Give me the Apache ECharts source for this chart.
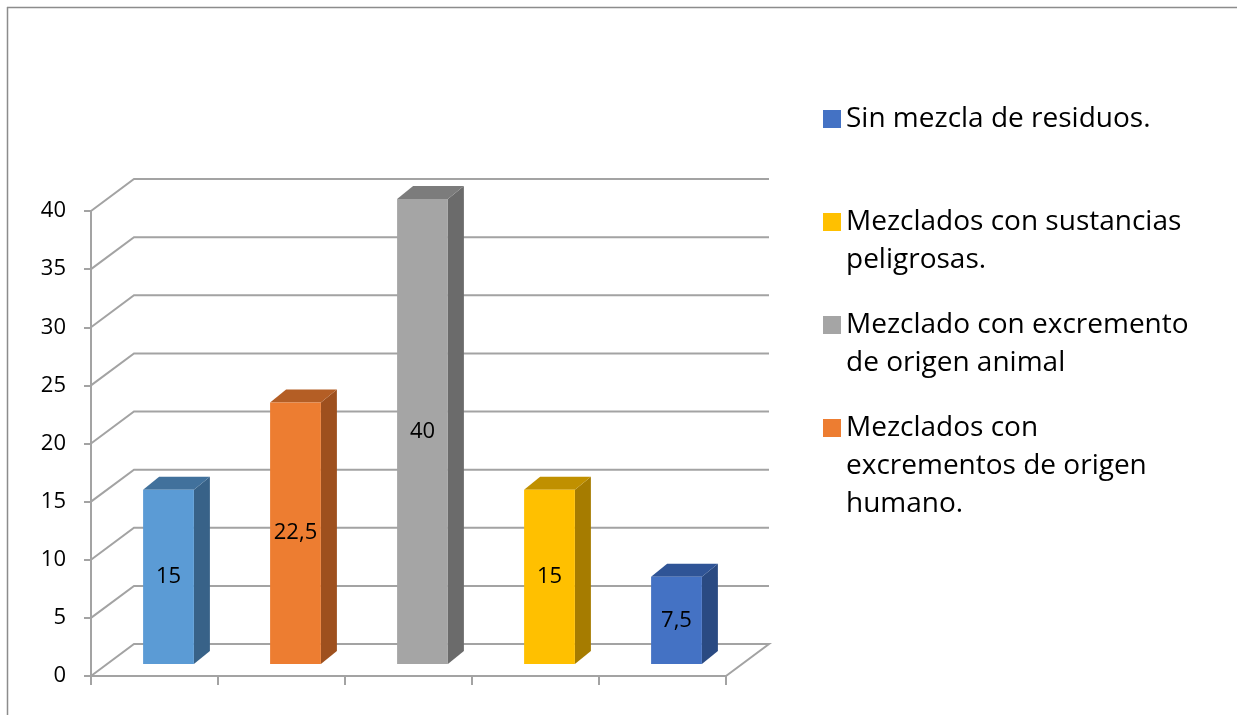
<!DOCTYPE html>
<html>
<head>
<meta charset="utf-8">
<script src="https://cdn.jsdelivr.net/npm/echarts@6/dist/echarts.min.js"></script>
<style>
  html, body { margin: 0; padding: 0; background: #ffffff; }
  #chart { width: 1237px; height: 715px; }
</style>
</head>
<body>
<div id="chart"></div>
<script>
// Categories along the horizontal axis (axis labels are not shown)
const categories = ['1', '2', '3', '4', '5'];

// Percentage for each bar, left to right
const values = [15, 22.5, 40, 15, 7.5];

// Series name for each bar (the first bar has no legend entry)
const seriesNames = [
  'Otros',
  'Mezclados con\nexcrementos de origen\nhumano.',
  'Mezclado con excremento\nde origen animal',
  'Mezclados con sustancias\npeligrosas.',
  'Sin mezcla de residuos.'
];

// Legend order (indices into seriesNames)
const legendOrder = [4, 3, 2, 1];

// Value-axis ticks
const yTicks = [0, 5, 10, 15, 20, 25, 30, 35, 40];

// Face colours of each 3D bar: front, top, side
const frontColors = ['#5b9bd5', '#ed7d31', '#a5a5a5', '#ffc000', '#4472c4'];
const topColors   = ['#41719c', '#b45e25', '#7c7c7c', '#c09000', '#2f5496'];
const sideColors  = ['#386288', '#9e501e', '#6b6b6b', '#a67c00', '#2a4a82'];

const FONT = 'Open Sans';
const GRID_COLOR = '#a3a3a3';

// Oblique projection offsets (pixels) for the pseudo-3D look
const WALL_DEPTH = [43, -32];   // depth of floor / side wall
const FRONT_OFF = [14, -12];    // bar front plane relative to axis plane
const BAR_DEPTH = [16, -13];    // thickness of each bar
const BAR_FRAC = 0.4;           // bar width as a share of the category band

function fmt(v) { return String(v).replace('.', ','); }

// Back wall, side wall and floor lines at each value tick
function wallRenderer(params, api) {
  const v = api.value(1);
  const cs = params.coordSys;
  const y = api.coord([0, v])[1];
  const x0 = cs.x, x1 = cs.x + cs.width;
  const dx = WALL_DEPTH[0], dy = WALL_DEPTH[1];
  const pts = [[x0, y], [x0 + dx, y + dy], [x1 + dx, y + dy]];
  if (v === 0) pts.push([x1, y]);
  return {
    type: 'polyline',
    shape: { points: pts },
    style: { stroke: GRID_COLOR, lineWidth: 2, fill: null }
  };
}

function barRenderer(k) {
  return function (params, api) {
    const i = api.value(0), v = api.value(1);
    const base = api.coord([i, 0]);
    const top = api.coord([i, v]);
    const band = api.size([1, 0])[0];
    const w = band * BAR_FRAC;
    const xl = base[0] - w / 2 + FRONT_OFF[0];
    const xr = xl + w;
    const yb = base[1] + FRONT_OFF[1];
    const yt = top[1] + FRONT_OFF[1];
    const dx = BAR_DEPTH[0], dy = BAR_DEPTH[1];
    return {
      type: 'group',
      children: [
        { type: 'polygon', shape: { points: [[xr, yt], [xr + dx, yt + dy], [xr + dx, yb + dy], [xr, yb]] },
          style: { fill: sideColors[k] } },
        { type: 'polygon', shape: { points: [[xl, yt], [xl + dx, yt + dy], [xr + dx, yt + dy], [xr, yt]] },
          style: { fill: topColors[k] } },
        { type: 'rect', shape: { x: xl, y: yt, width: w, height: yb - yt },
          style: { fill: frontColors[k] } },
        { type: 'text', x: (xl + xr) / 2, y: (yt + yb) / 2,
          style: { text: fmt(v), fill: '#000000', fontSize: 22, fontFamily: FONT, align: 'center', verticalAlign: 'middle' } }
      ]
    };
  };
}

const series = [{
  type: 'custom',
  name: 'grid',
  z: 1,
  silent: true,
  renderItem: wallRenderer,
  data: yTicks.map(v => [0, v])
}];

values.forEach((v, k) => {
  series.push({
    type: 'custom',
    name: seriesNames[k],
    z: 3,
    itemStyle: { color: frontColors[k] },
    renderItem: barRenderer(k),
    data: [[k, v]]
  });
});

// Legend blocks: one per entry; leading blank lines keep the swatch level with the first text line
const LINE_H = 38;
const legendTops = [100, 165, 268, 333];
const legends = legendOrder.map((k, j) => {
  const lines = seriesNames[k].split('\n').length;
  return {
    orient: 'vertical',
    left: 823,
    top: legendTops[j],
    padding: 0,
    itemWidth: 18,
    itemHeight: 18,
    icon: 'rect',
    selectedMode: false,
    formatter: name => '\n'.repeat(lines - 1) + name,
    textStyle: { fontSize: 28, lineHeight: LINE_H, color: '#000000', fontFamily: FONT },
    data: [seriesNames[k]]
  };
});

const chart = echarts.init(document.getElementById('chart'), null, { renderer: 'canvas' });
chart.setOption({
  animation: false,
  backgroundColor: '#ffffff',
  grid: { left: 91, top: 211, width: 635, height: 465, containLabel: false },
  xAxis: {
    type: 'category',
    data: categories,
    boundaryGap: true,
    axisLine: { show: true, lineStyle: { color: GRID_COLOR, width: 2 } },
    axisTick: { show: true, length: 9, lineStyle: { color: GRID_COLOR, width: 2 } },
    axisLabel: { show: false },
    splitLine: { show: false }
  },
  yAxis: {
    type: 'value',
    min: 0,
    max: 40,
    interval: 5,
    axisLine: { show: true, lineStyle: { color: GRID_COLOR, width: 2 } },
    axisTick: { show: true, length: 7, lineStyle: { color: GRID_COLOR, width: 2 } },
    axisLabel: { color: '#000000', fontSize: 22, fontFamily: FONT, margin: 25 },
    splitLine: { show: false }
  },
  legend: legends,
  graphic: [
    { type: 'line', shape: { x1: 7, y1: 7.5, x2: 1237, y2: 7.5 }, style: { stroke: '#8c8c8c', lineWidth: 1.5 }, silent: true },
    { type: 'line', shape: { x1: 7.5, y1: 7, x2: 7.5, y2: 715 }, style: { stroke: '#8c8c8c', lineWidth: 1.5 }, silent: true }
  ],
  series: series
});
</script>
</body>
</html>
